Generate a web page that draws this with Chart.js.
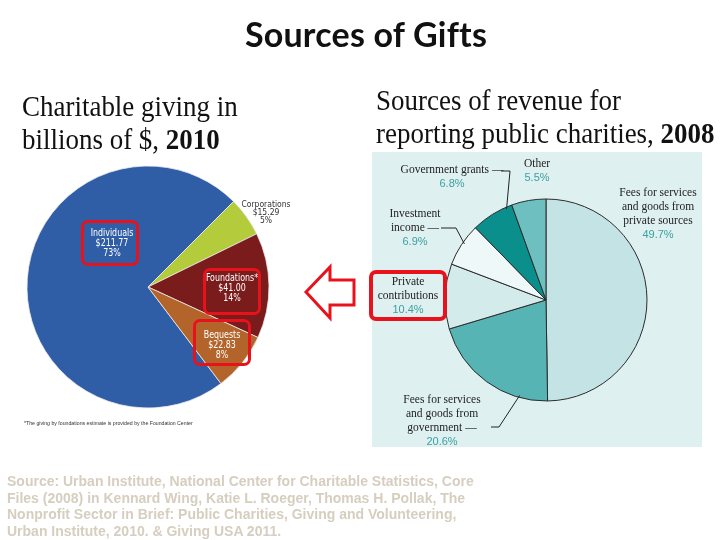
<!DOCTYPE html>
<html>
<head>
<meta charset="utf-8">
<script src="https://cdn.jsdelivr.net/npm/chart.js@4/dist/chart.umd.min.js"></script>
<style>
body { margin:0; width:720px; height:540px; background:#fff; position:relative; overflow:hidden; font-family:"Liberation Sans", Arial, sans-serif; }
.abs { position:absolute; }
canvas.full { position:absolute; left:0; top:0; }
#title { left:0; width:732px; top:13px; text-align:center; font:bold 34px Lato, "Open Sans", sans-serif; letter-spacing:0.2px; color:#111; }
.sub { font-family:"Liberation Serif", "Times New Roman", serif; font-size:29px; line-height:33px; color:#111; transform:scaleX(0.93); transform-origin:0 0; white-space:nowrap; }
#panel { left:372px; top:152px; width:330px; height:295px; background:#dff0f0; }
.box { position:absolute; box-sizing:border-box; border:3px solid #e8121c; border-radius:7px; }
.wl { position:absolute; text-align:center; color:#fff; font-family:"Liberation Sans Narrow", "DejaVu Sans Condensed", sans-serif; font-size:10px; line-height:10px; width:80px; transform:scaleX(0.88); }
.rl { position:absolute; text-align:center; font-family:"Liberation Serif", serif; font-size:11.5px; line-height:14px; color:#222; white-space:nowrap; }
.rl .p { font-family:"Liberation Sans", sans-serif; color:#3c9fa0; font-size:11px; }
#source { left:7px; top:473px; font-size:14px; line-height:16.7px; font-weight:bold; color:#d6cebf; white-space:nowrap; }
#foot { left:24px; top:420px; font-size:5.2px; color:#333; font-family:"Liberation Sans Narrow", sans-serif; }
</style>
</head>
<body>
<div id="panel" class="abs"></div>
<canvas id="gifts" class="full" width="720" height="540"></canvas>
<canvas id="revenue" class="full" width="720" height="540"></canvas>

<div id="title" class="abs">Sources of Gifts</div>
<div class="abs sub" style="left:22px;top:90px;">Charitable giving in<br>billions of $, <b>2010</b></div>
<div class="abs sub" style="left:376px;top:84px;">Sources of revenue for<br>reporting public charities, <b>2008</b></div>

<div id="leftLabels"></div>
<div id="rightLabels"></div>

<div class="box" style="left:81px;top:220px;width:58px;height:46px;"></div>
<div class="box" style="left:203px;top:268px;width:58px;height:47px;"></div>
<div class="box" style="left:193px;top:319px;width:58px;height:47px;"></div>
<div class="box" style="left:369px;top:270px;width:78px;height:51px;border-width:4px;"></div>

<svg class="abs" style="left:0;top:0" width="720" height="540">
  <polygon points="306,292 330,267 330,280 354,280 354,305 330,305 330,318" fill="#fff" stroke="#e8121c" stroke-width="3" stroke-linejoin="miter"/>
</svg>

<div id="foot" class="abs">*The giving by foundations estimate is provided by the Foundation Center</div>
<div id="source" class="abs">Source: Urban Institute, National Center for Charitable Statistics, Core<br>Files (2008) in Kennard Wing, Katie L. Roeger, Thomas H. Pollak, The<br>Nonprofit Sector in Brief: Public Charities, Giving and Volunteering,<br>Urban Institute, 2010. &amp; Giving USA 2011.</div>

<script>
// left pie - charitable giving 2010, billions of $
const giftLabels = ['Individuals', 'Corporations', 'Foundations*', 'Bequests'];
const giftValues = [211.77, 15.29, 41.00, 22.83];
const giftPct = ['73%', '5%', '14%', '8%'];
const giftColors = ['#2f5da6', '#b4cb3b', '#7a1b1c', '#b3642b'];

// right pie - revenue sources 2008, percent
const revLabels = [
    ['Fees for services', 'and goods from', 'private sources'],
    ['Fees for services', 'and goods from', 'government \u2014'],
    ['Private', 'contributions'],
    ['Investment', 'income \u2014'],
    ['Government grants \u2014'],
    ['Other']
];
const revValues = [49.7, 20.6, 10.4, 6.9, 6.8, 5.5];
const revColors = ['#c4e3e5', '#56b4b4', '#d4ebec', '#eef8f8', '#0b8f8c', '#6ebfc0'];

// where the text blocks sit (centre x, top y) - layout only
const giftLabelPos = [[112, 228, 'w'], [266, 200, 'k'], [232, 273, 'w'], [222, 330, 'w']];
const revLabelPos = [[658, 185], [442, 392], [408, 274], [415, 206], [452, 162], [537, 156]];
// leader lines: label end point, elbow, fraction along slice
const revLeaders = {
    1: {from: [491, 427], elbow: [499, 427], frac: 0.22},
    3: {from: [441, 228], elbow: [456, 228], frac: 0.55},
    4: {from: [501, 171], elbow: [510, 171], frac: 0.85}
};

const leftBox = document.getElementById('leftLabels');
giftLabels.forEach((name, i) => {
    const [cx, top, kind] = giftLabelPos[i];
    const d = document.createElement('div');
    d.className = 'wl';
    d.style.left = (cx - 40) + 'px';
    d.style.top = top + 'px';
    if (kind === 'k') {
        d.style.color = '#333';
        d.style.fontSize = '8.5px';
        d.style.lineHeight = '8px';
        d.style.transform = 'none';
    }
    d.innerHTML = name + '<br>$' + giftValues[i].toFixed(2) + '<br>' + giftPct[i];
    leftBox.appendChild(d);
});

const rightBox = document.getElementById('rightLabels');
revLabels.forEach((lines, i) => {
    const [cx, top] = revLabelPos[i];
    const d = document.createElement('div');
    d.className = 'rl';
    d.style.left = cx + 'px';
    d.style.top = top + 'px';
    d.style.transform = 'translateX(-50%)';
    d.innerHTML = lines.join('<br>') + '<br><span class="p">' + revValues[i].toFixed(1) + '%</span>';
    rightBox.appendChild(d);
});

const leaderPlugin = {
    id: 'leaders',
    afterDatasetsDraw(chart, args, opts) {
        if (!opts.lines) return;
        const ctx = chart.ctx;
        const arcs = chart.getDatasetMeta(0).data;
        ctx.save();
        ctx.strokeStyle = '#222';
        ctx.lineWidth = 1;
        Object.keys(opts.lines).forEach(k => {
            const l = opts.lines[k];
            const a = arcs[k];
            const ang = a.startAngle + (a.endAngle - a.startAngle) * l.frac;
            const r = a.outerRadius - 2;
            ctx.beginPath();
            ctx.moveTo(l.from[0], l.from[1]);
            ctx.lineTo(l.elbow[0], l.elbow[1]);
            ctx.lineTo(a.x + r * Math.cos(ang), a.y + r * Math.sin(ang));
            ctx.stroke();
        });
        ctx.restore();
    }
};

// individuals share sets where corporations start (about 45 deg)
const indivDeg = giftValues[0] / giftValues.reduce((s, v) => s + v, 0) * 360;

new Chart(document.getElementById('gifts'), {
    type: 'pie',
    data: {
        labels: giftLabels,
        datasets: [{
            data: giftValues,
            backgroundColor: giftColors,
            borderColor: 'rgba(235,235,235,0.8)',
            borderWidth: 1
        }]
    },
    options: {
        responsive: false,
        animation: false,
        rotation: 45 - indivDeg,
        radius: 121,
        layout: { padding: { left: 0, right: 424, top: 34, bottom: 0 } },
        plugins: { legend: { display: false }, tooltip: { enabled: false } },
        events: []
    }
});

new Chart(document.getElementById('revenue'), {
    type: 'pie',
    data: {
        labels: revLabels.map(l => l.join(' ')),
        datasets: [{
            data: revValues,
            backgroundColor: revColors,
            borderColor: '#2b2b2b',
            borderWidth: 1
        }]
    },
    options: {
        responsive: false,
        animation: false,
        rotation: 0,
        radius: 101,
        layout: { padding: { left: 372, right: 0, top: 60, bottom: 0 } },
        plugins: {
            legend: { display: false },
            tooltip: { enabled: false },
            leaders: { lines: revLeaders }
        },
        events: []
    },
    plugins: [leaderPlugin]
});
</script>
</body>
</html>
